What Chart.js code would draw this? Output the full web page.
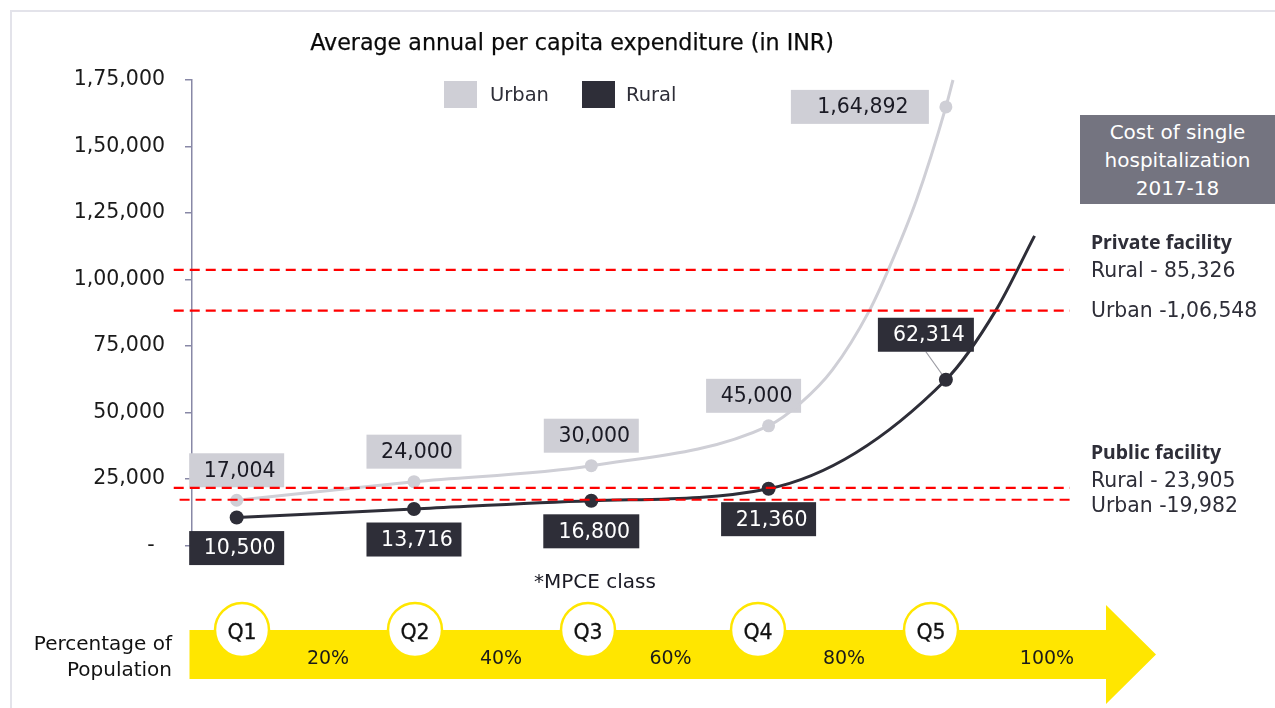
<!DOCTYPE html>
<html>
<head>
<meta charset="utf-8">
<script src="https://cdn.jsdelivr.net/npm/chart.js@4.4.1/dist/chart.umd.min.js"></script>
<style>
  html, body { margin:0; padding:0; background:#ffffff; width:1275px; height:708px; overflow:hidden; font-family:'DejaVu Sans', sans-serif; }
  #frame { position:absolute; left:10px; top:10px; width:1280px; height:720px; border-left:2px solid #E3E3EA; border-top:2px solid #E3E3EA; }
  #wrap { position:absolute; left:0; top:0; width:1275px; height:708px; }
  .t { position:absolute; white-space:nowrap; color:#1A1A24; }
  #title { left:272px; width:600px; top:29px; font-size:22.2px; line-height:26px; text-align:center; color:#0A0A0A; -webkit-text-stroke:0.25px #0A0A0A; }
  .legsq { position:absolute; width:33px; height:27px; top:81px; }
  .legtx { top:82px; font-size:19.5px; line-height:26px; color:#2E2E38; }
  #costbox { position:absolute; left:1080px; top:115px; width:195px; height:89px; background:#747480; color:#fff; font-size:20px; line-height:28px; text-align:center; box-sizing:border-box; padding-top:3px; }
  .head { font-family:'Noto Sans', sans-serif; font-weight:700; font-size:19.5px; line-height:24px; color:#2E2E38; }
  .val { font-size:20.4px; line-height:24px; color:#2E2E38; }
  #mpce { left:495px; width:200px; text-align:center; top:569px; font-size:20px; line-height:24px; color:#1A1A24; }
  svg { position:absolute; left:0; top:0; }
</style>
</head>
<body>
<div id="frame"></div>
<div id="wrap"><canvas id="c" width="1275" height="708"></canvas></div>

<div class="t" id="title">Average annual per capita expenditure (in INR)</div>
<div class="legsq" style="left:444px;background:#CFCFD6;"></div>
<div class="t legtx" style="left:490px;">Urban</div>
<div class="legsq" style="left:582px;background:#2E2E38;"></div>
<div class="t legtx" style="left:626px;">Rural</div>

<div id="costbox">Cost of single<br>hospitalization<br>2017-18</div>
<div class="t head" style="left:1091px;top:230px;">Private facility</div>
<div class="t val" style="left:1091px;top:258px;">Rural - 85,326</div>
<div class="t val" style="left:1091px;top:298px;">Urban -1,06,548</div>
<div class="t head" style="left:1091px;top:440px;">Public facility</div>
<div class="t val" style="left:1091px;top:468px;">Rural - 23,905</div>
<div class="t val" style="left:1091px;top:493px;">Urban -19,982</div>
<div class="t" id="mpce">*MPCE class</div>

<svg id="bottom" width="1275" height="708" xmlns="http://www.w3.org/2000/svg"></svg>

<script>
// ---------------- DATA ----------------
const categories = ['Q1', 'Q2', 'Q3', 'Q4', 'Q5'];
const urbanValues = [17004, 24000, 30000, 45000, 164892];
const ruralValues = [10500, 13716, 16800, 21360, 62314];
// extra readings of the smoothed trend curves (x in MPCE-class units, 1 = Q1)
const urbanCurveX = [4.18, 4.36, 4.57, 4.675, 4.834, 5.04];
const urbanCurveY = [53500, 66000, 88500, 103600, 129900, 175000];
const ruralCurveX = [5.28, 5.5];
const ruralCurveY = [88200, 116400];
// dashed hospitalization-cost levels as drawn in the picture
const hospitalLevels = [103600, 88300, 21650, 17200];
const yTicks = [0, 25000, 50000, 75000, 100000, 125000, 150000, 175000];
const populationShares = ['20%', '40%', '60%', '80%', '100%'];

// ---------------- STYLE ----------------
const URBAN = '#CFCFD6', RURAL = '#2E2E38', AXIS = '#8888A6';
const levelStart = [0.645, 0.645, 0.645, 0.678];
const labelStyle = {
  urban: { bg: '#CFCFD6', fg: '#1A1A24', place: ['above', 'above', 'above', 'aboveShift', 'left'], w: [95, 95, 95, 95, 138] },
  rural: { bg: '#2E2E38', fg: '#FFFFFF', place: ['below', 'below', 'below', 'below', 'callout'], w: [95, 95, 96, 95, 96] }
};

function inr(v) {
  if (v === 0) return '-\u2002';
  const s = String(Math.round(v));
  if (s.length <= 3) return s;
  const last3 = s.slice(-3);
  let rest = s.slice(0, -3);
  const parts = [];
  while (rest.length > 2) { parts.unshift(rest.slice(-2)); rest = rest.slice(0, -2); }
  if (rest) parts.unshift(rest);
  return parts.join(',') + ',' + last3;
}

function curvePoints(values, ex, ey) {
  const pts = values.map((v, i) => ({ x: i + 1, y: v }));
  ex.forEach((x, i) => pts.push({ x: x, y: ey[i] }));
  return pts.sort((a, b) => a.x - b.x);
}

const labelPlugin = {
  id: 'boxLabels',
  beforeDatasetsDraw(chart) {
    const ctx = chart.ctx;
    ctx.save();
    ctx.font = '20.5px "DejaVu Sans"';
    ctx.textAlign = 'center';
    ctx.textBaseline = 'middle';
    chart.data.datasets.forEach((ds, di) => {
      if (!ds.labelKey) return;
      const st = labelStyle[ds.labelKey];
      const meta = chart.getDatasetMeta(di);
      meta.data.forEach((pt, i) => {
        const px = pt.x, py = pt.y, w = st.w[i], h = 34;
        let x0, y0;
        const p = st.place[i];
        if (p === 'above') { x0 = px - w / 2; y0 = py - 13 - h; }
        else if (p === 'aboveShift') { x0 = px - 15 - w / 2; y0 = py - 13 - h; }
        else if (p === 'left') { x0 = px - 17 - w; y0 = py - h / 2; }
        else if (p === 'below') { x0 = px - w / 2; y0 = py + 13.5; }
        else { x0 = px - 20 - w / 2; y0 = py - 28 - h; }
        if (p === 'callout') {
          ctx.strokeStyle = '#9A9AA2'; ctx.lineWidth = 1.2;
          ctx.beginPath(); ctx.moveTo(px - 20, py - 28); ctx.lineTo(px, py); ctx.stroke();
        }
        ctx.fillStyle = st.bg;
        ctx.fillRect(x0, y0, w, h);
        ctx.fillStyle = st.fg;
        ctx.fillText(inr(ds.data[i].y), x0 + w / 2 + 3, y0 + h / 2 + 1);
      });
    });
    ctx.restore();
  }
};

Chart.defaults.font.family = 'DejaVu Sans';

const datasets = [];
hospitalLevels.forEach((lv, i) => {
  datasets.push({
    type: 'line', data: [{ x: levelStart[i], y: lv }, { x: 5.70, y: lv }],
    borderColor: '#FF0000', borderWidth: 2.2, borderDash: [10, 6], pointRadius: 0,
    clip: false, order: -1, tension: 0
  });
});
datasets.push({
  type: 'line', data: ruralValues.map((v, i) => ({ x: i + 1, y: v })), labelKey: 'rural',
  showLine: false, pointRadius: 7, pointBackgroundColor: RURAL, pointBorderWidth: 0, order: 0
});
datasets.push({
  type: 'line', data: urbanValues.map((v, i) => ({ x: i + 1, y: v })), labelKey: 'urban',
  showLine: false, pointRadius: 6.5, pointBackgroundColor: URBAN, pointBorderWidth: 0, order: 0
});
datasets.push({
  type: 'line', data: curvePoints(ruralValues, ruralCurveX, ruralCurveY),
  borderColor: RURAL, borderWidth: 3, pointRadius: 0, cubicInterpolationMode: 'monotone', order: 1, clip: 4
});
datasets.push({
  type: 'line', data: curvePoints(urbanValues, urbanCurveX, urbanCurveY),
  borderColor: URBAN, borderWidth: 3, pointRadius: 0, cubicInterpolationMode: 'monotone', order: 1, clip: 4
});

new Chart(document.getElementById('c'), {
  type: 'line',
  data: { datasets: datasets },
  options: {
    responsive: false,
    animation: false,
    events: [],
    layout: { padding: { left: 0, top: 80, right: 205, bottom: 162.5 } },
    plugins: { legend: { display: false }, tooltip: { enabled: false } },
    scales: {
      x: { type: 'linear', min: 0.748, max: 5.70, display: false },
      y: {
        type: 'linear', min: 0, max: 175000,
        afterBuildTicks: s => { s.ticks = yTicks.map(v => ({ value: v })); },
        afterFit: s => { s.width = 192; },
        ticks: { callback: v => inr(v), font: { size: 20.5 }, color: '#1A1A1A', padding: 20 },
        grid: { drawOnChartArea: false, drawTicks: true, tickLength: 7, color: AXIS, lineWidth: 1.5 },
        border: { display: true, color: AXIS, width: 1.5 }
      }
    }
  },
  plugins: [labelPlugin]
});

// ---------------- BOTTOM POPULATION ARROW ----------------
(function () {
  const svg = document.getElementById('bottom');
  const NS = 'http://www.w3.org/2000/svg';
  function el(tag, attrs, text) {
    const e = document.createElementNS(NS, tag);
    for (const k in attrs) e.setAttribute(k, attrs[k]);
    if (text !== undefined) e.textContent = text;
    svg.appendChild(e);
    return e;
  }
  el('polygon', { points: '189.5,630 1106,630 1106,605 1156,654.5 1106,704 1106,679 189.5,679', fill: '#FFE600' });
  const qx = [242, 415, 588, 758, 931];
  const px = [328, 501, 670.5, 844, 1047];
  categories.forEach((q, i) => {
    el('circle', { cx: qx[i], cy: 630, r: 27, fill: '#FFFFFF', stroke: '#FFE600', 'stroke-width': 2.5 });
    el('text', { x: qx[i], y: 632, 'text-anchor': 'middle', 'dominant-baseline': 'central', 'font-family': 'DejaVu Sans', 'font-size': 20.5, fill: '#111', stroke: '#111', 'stroke-width': 0.3 }, q);
  });
  populationShares.forEach((p, i) => {
    el('text', { x: px[i], y: 657, 'text-anchor': 'middle', 'dominant-baseline': 'central', 'font-family': 'DejaVu Sans', 'font-size': 19, fill: '#1A1A1A' }, p);
  });
  el('text', { x: 172, y: 643, 'text-anchor': 'end', 'dominant-baseline': 'central', 'font-family': 'DejaVu Sans', 'font-size': 20, fill: '#111' }, 'Percentage of');
  el('text', { x: 172, y: 669, 'text-anchor': 'end', 'dominant-baseline': 'central', 'font-family': 'DejaVu Sans', 'font-size': 20, fill: '#111' }, 'Population');
})();
</script>
</body>
</html>
